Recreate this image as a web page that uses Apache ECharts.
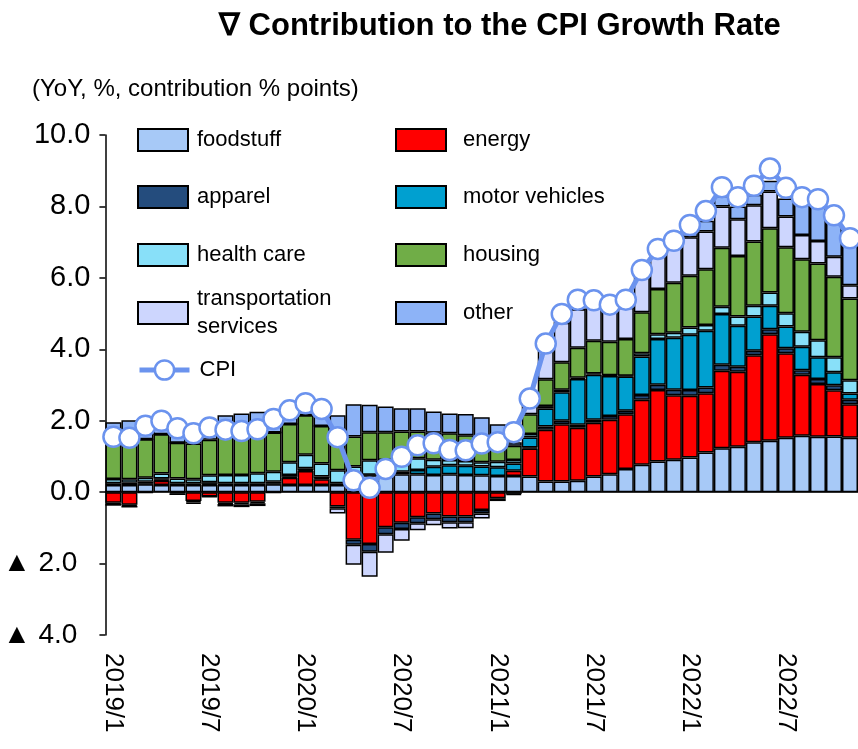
<!DOCTYPE html>
<html>
<head>
<meta charset="utf-8">
<script src="https://cdn.jsdelivr.net/npm/echarts@6/dist/echarts.min.js"></script>
<style>
  html, body { margin: 0; padding: 0; background: #fff; }
  #chart { width: 858px; height: 749px; }
</style>
</head>
<body>
<div id="chart"></div>
<script>
// months 2019/1 .. 2022/11
const months = [
  '2019/1','2019/2','2019/3','2019/4','2019/5','2019/6','2019/7','2019/8','2019/9','2019/10','2019/11','2019/12',
  '2020/1','2020/2','2020/3','2020/4','2020/5','2020/6','2020/7','2020/8','2020/9','2020/10','2020/11','2020/12',
  '2021/1','2021/2','2021/3','2021/4','2021/5','2021/6','2021/7','2021/8','2021/9','2021/10','2021/11','2021/12',
  '2022/1','2022/2','2022/3','2022/4','2022/5','2022/6','2022/7','2022/8','2022/9','2022/10','2022/11'
];

// contributions, % points
const foodstuff = [0.20,0.20,0.22,0.20,0.20,0.20,0.20,0.20,0.20,0.20,0.22,0.20,
  0.20,0.20,0.20,0.40,0.47,0.50,0.50,0.50,0.48,0.50,0.48,0.47,
  0.45,0.45,0.44,0.30,0.30,0.32,0.44,0.50,0.65,0.77,0.86,0.91,
  0.97,1.11,1.23,1.27,1.40,1.44,1.52,1.58,1.55,1.56,1.52];
const energy = [-0.30,-0.35,-0.02,0.12,-0.03,-0.25,-0.12,-0.30,-0.30,-0.27,-0.02,0.20,
  0.39,0.16,-0.40,-1.33,-1.45,-0.98,-0.86,-0.70,-0.60,-0.68,-0.68,-0.50,
  -0.17,0.15,0.78,1.45,1.60,1.48,1.50,1.53,1.53,1.82,2.00,1.80,
  1.73,1.66,2.17,2.10,2.43,2.98,2.37,1.71,1.48,1.29,0.94];
const apparel = [-0.03,-0.03,0.02,0.03,-0.05,-0.04,0.03,-0.03,-0.04,-0.04,0.02,0.03,
  0.03,0.03,-0.05,-0.14,-0.22,-0.20,-0.17,-0.17,-0.16,-0.16,-0.16,-0.10,
  -0.08,-0.05,0.03,0.09,0.10,0.09,0.09,0.10,0.10,0.13,0.15,0.16,
  0.16,0.16,0.17,0.14,0.13,0.14,0.14,0.12,0.14,0.14,0.13];
const motorVehicles = [0.05,0.06,0.05,0.03,0.05,0.05,0.05,0.05,0.05,0.05,0.05,0.05,
  0.05,0.05,0.05,0.02,0.02,0.05,0.07,0.12,0.23,0.25,0.26,0.25,
  0.25,0.20,0.28,0.50,0.80,1.28,1.26,1.12,0.96,1.08,1.28,1.45,
  1.55,1.59,1.42,1.15,0.96,0.66,0.61,0.66,0.61,0.37,0.17];
const healthCare = [0.12,0.10,0.11,0.14,0.13,0.11,0.19,0.23,0.23,0.28,0.28,0.36,
  0.38,0.36,0.36,0.30,0.40,0.35,0.33,0.33,0.20,0.15,0.13,0.12,
  0.15,0.10,0.10,0.07,0.07,0.03,0.03,0.02,0.02,0.09,0.13,0.14,
  0.20,0.16,0.20,0.26,0.30,0.37,0.37,0.42,0.47,0.42,0.37];
const housing = [1.06,1.05,1.08,1.10,1.00,1.00,1.00,1.17,1.12,1.10,1.10,1.07,
  1.10,1.05,1.04,0.84,0.79,0.78,0.80,0.75,0.75,0.75,0.72,0.64,
  0.60,0.40,0.55,0.75,0.77,0.84,0.92,0.94,1.03,1.15,1.27,1.40,
  1.45,1.56,1.65,1.69,1.80,1.80,1.85,2.03,2.15,2.25,2.29];
const transportServices = [-0.05,-0.05,0,0,0,-0.04,-0.02,-0.07,-0.08,-0.08,0,0,
  0,0,-0.15,-0.56,-0.70,-0.52,-0.33,-0.20,-0.17,-0.18,-0.17,-0.14,
  0,-0.03,0.25,0.90,1.10,1.08,1.00,0.89,0.87,1.14,1.05,1.13,
  1.08,1.06,1.16,1.03,1.01,1.03,0.86,0.68,0.63,0.56,0.37];
const other = [0.53,0.60,0.35,0.35,0.40,0.55,0.40,0.50,0.60,0.62,0.40,0.35,
  0.35,0.45,0.50,0.90,0.77,0.72,0.65,0.65,0.60,0.55,0.60,0.62,
  0.45,0.10,0,0,0,0,0,0,0,0,0,0,
  0.15,0.30,0.30,0.36,0.30,0.30,0.50,0.98,1.10,1.22,1.54];
const cpi = [1.55,1.52,1.86,2.00,1.79,1.65,1.81,1.75,1.71,1.76,2.05,2.29,
  2.49,2.33,1.54,0.33,0.12,0.65,0.99,1.31,1.37,1.18,1.17,1.36,
  1.40,1.68,2.62,4.16,4.99,5.39,5.37,5.25,5.39,6.22,6.81,7.04,
  7.48,7.87,8.54,8.26,8.58,9.06,8.52,8.26,8.20,7.75,7.11];

const SANS = '"Liberation Sans", Arial, sans-serif';
const CPI_BLUE = '#6b93ee';

const chart = echarts.init(document.getElementById('chart'));

function barSeries(name, data, color) {
  return {
    name: name,
    type: 'bar',
    stack: 'contrib',
    data: data,
    barCategoryGap: '0%',
    itemStyle: { color: color, borderColor: '#000', borderWidth: 1.5 },
    emphasis: { disabled: true }
  };
}

// legend slots: [name, left, row centre y, text offset]
const legendSlots = [
  ['foodstuff', 137, 140, 4],
  ['energy', 395, 140, 12],
  ['apparel', 137, 197, 4],
  ['motor vehicles', 395, 197, 12],
  ['health care', 137, 255, 4],
  ['housing', 395, 255, 12],
  ['transportation services', 137, 313, 4],
  ['other', 395, 313, 12],
  ['CPI', 137, 370, 5]
];

const legends = legendSlots.map(([name, left, cy, pad]) => {
  const twoLine = name === 'transportation services';
  const leg = {
    data: [name],
    left: left,
    top: twoLine ? cy - 28 : cy - 13,
    padding: 0,
    icon: 'rect',
    itemWidth: 50,
    itemHeight: 22,
    selectedMode: false,
    formatter: n => (n === 'transportation services' ? 'transportation\nservices' : n),
    textStyle: {
      fontFamily: SANS, fontSize: 22, color: '#000',
      lineHeight: twoLine ? 28 : 26,
      padding: [0, 0, 0, pad]
    }
  };
  if (name === 'CPI') {
    delete leg.icon;
    leg.itemHeight = 24;
    leg.lineStyle = { width: 5, color: CPI_BLUE };
    leg.itemStyle = { color: '#fff', borderColor: CPI_BLUE, borderWidth: 2.5 };
  }
  return leg;
});

const option = {
  animation: false,
  backgroundColor: '#fff',
  title: [
    {
      text: '∇ Contribution to the CPI Growth Rate',
      left: 214, top: 6,
      textStyle: { fontFamily: SANS, fontWeight: 'bold', fontSize: 31, color: '#000' }
    },
    {
      text: '(YoY, %, contribution % points)',
      left: 27, top: 72,
      textStyle: { fontFamily: SANS, fontWeight: 'normal', fontSize: 24, color: '#000' }
    }
  ],
  legend: legends,
  grid: { left: 103, right: -6, top: 135, bottom: 114, containLabel: false },
  xAxis: [
    {
      type: 'category',
      data: months,
      axisLine: { show: false, onZero: false },
      axisTick: { show: false },
      axisLabel: {
        interval: 5, rotate: -90, margin: 18,
        fontFamily: SANS, fontSize: 26, color: '#000'
      }
    },
    {
      type: 'category',
      data: months,
      position: 'bottom',
      axisLine: { show: true, onZero: true, lineStyle: { color: '#000', width: 1.5 } },
      axisTick: { show: false },
      axisLabel: { show: false }
    }
  ],
  yAxis: {
    type: 'value',
    min: -4, max: 10, interval: 2,
    splitLine: { show: false },
    axisLine: { show: true, lineStyle: { color: '#000', width: 1.5 } },
    axisTick: { show: true, length: 6, lineStyle: { color: '#000', width: 1.5 } },
    axisLabel: {
      margin: 15,
      fontFamily: SANS, fontSize: 29, color: '#000',
      formatter: v => (v < 0 ? '{neg|▲ ' + Math.abs(v).toFixed(1) + '}' : v.toFixed(1)),
      rich: {
        neg: { fontFamily: SANS, fontSize: 28, color: '#000', padding: [0, 13, 0, 0] }
      }
    }
  },
  series: [
    barSeries('foodstuff', foodstuff, '#a7c9f7'),
    barSeries('energy', energy, '#ff0000'),
    barSeries('apparel', apparel, '#244c7d'),
    barSeries('motor vehicles', motorVehicles, '#00a0d0'),
    barSeries('health care', healthCare, '#88e0f9'),
    barSeries('housing', housing, '#70ad47'),
    barSeries('transportation services', transportServices, '#cdd6fe'),
    barSeries('other', other, '#8db3f7'),
    {
      name: 'CPI',
      type: 'line',
      data: cpi,
      z: 5,
      symbol: 'circle',
      symbolSize: 20,
      showAllSymbol: true,
      itemStyle: { color: '#fff', borderColor: CPI_BLUE, borderWidth: 2.5 },
      lineStyle: { color: CPI_BLUE, width: 5 },
      emphasis: { disabled: true }
    }
  ]
};

chart.setOption(option);
window.addEventListener('resize', () => chart.resize());
</script>
</body>
</html>
